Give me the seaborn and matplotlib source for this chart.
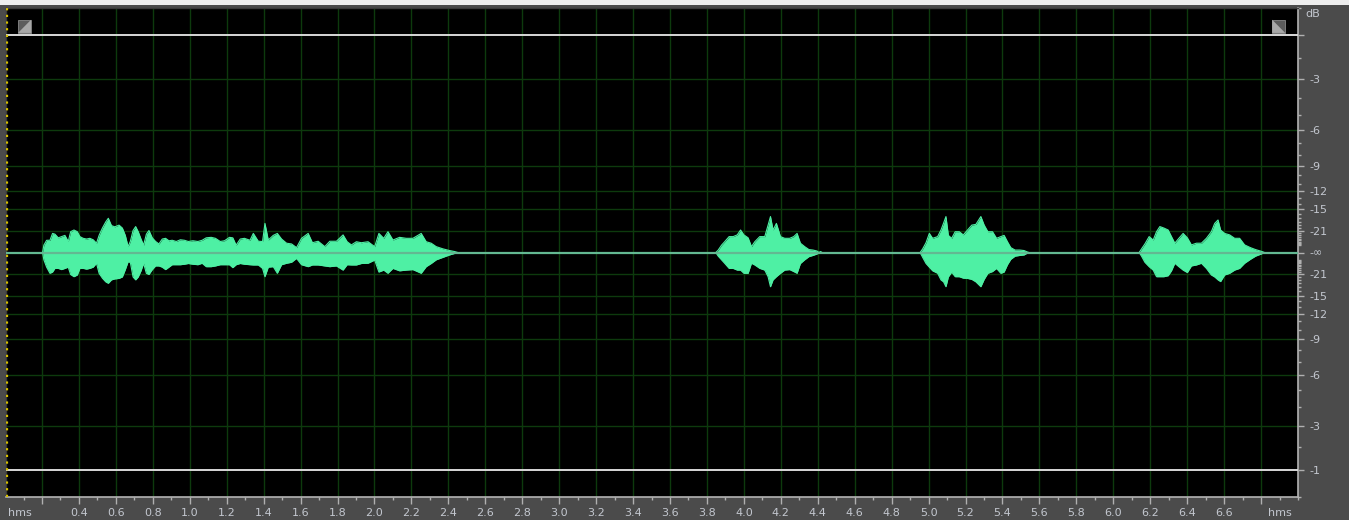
import numpy as np
import pandas as pd
import matplotlib
matplotlib.use("Agg")
import matplotlib.pyplot as plt
import seaborn as sns
from matplotlib.patches import Rectangle, Polygon
from matplotlib.ticker import FixedLocator, MultipleLocator

# waveform envelope read off the editor view:
# time (s), upper peak and lower peak (fraction of full scale)
seg1_time = [0.203, 0.21, 0.225, 0.243, 0.257, 0.27, 0.288, 0.306, 0.324, 0.342,
             0.355, 0.373, 0.391, 0.405, 0.423, 0.441, 0.459, 0.477, 0.495, 0.509,
             0.527, 0.545, 0.559, 0.576, 0.594, 0.617, 0.635, 0.651, 0.666, 0.678,
             0.693, 0.707, 0.721, 0.736, 0.75, 0.765, 0.779, 0.797, 0.815, 0.833,
             0.851, 0.869, 0.887, 0.905, 0.927, 0.949, 0.971, 0.992, 1.017, 1.044,
             1.067, 1.089, 1.116, 1.139, 1.165, 1.188, 1.215, 1.233, 1.251, 1.273,
             1.296, 1.326, 1.344, 1.371, 1.394, 1.407, 1.425, 1.452, 1.474, 1.497,
             1.524, 1.551, 1.578, 1.605, 1.641, 1.664, 1.695, 1.731, 1.758, 1.794,
             1.83, 1.852, 1.875, 1.902, 1.929, 1.965, 2.001, 2.024, 2.05, 2.073,
             2.1, 2.136, 2.172, 2.208, 2.253, 2.28, 2.307, 2.334, 2.37, 2.406,
             2.433, 2.451]
seg1_up = [0.0, 0.03, 0.05, 0.05, 0.078, 0.075, 0.06, 0.065, 0.07, 0.045,
           0.085, 0.092, 0.085, 0.065, 0.058, 0.055, 0.058, 0.052, 0.038, 0.07,
           0.1, 0.125, 0.14, 0.11, 0.105, 0.112, 0.1, 0.07, 0.024, 0.045,
           0.09, 0.106, 0.085, 0.055, 0.03, 0.075, 0.09, 0.06, 0.045, 0.035,
           0.055, 0.058, 0.048, 0.05, 0.045, 0.052, 0.05, 0.045, 0.048, 0.045,
           0.05, 0.06, 0.062, 0.058, 0.045, 0.048, 0.062, 0.06, 0.03, 0.055,
           0.058, 0.05, 0.078, 0.046, 0.045, 0.119, 0.051, 0.07, 0.078, 0.055,
           0.038, 0.035, 0.02, 0.058, 0.078, 0.04, 0.046, 0.024, 0.046, 0.046,
           0.072, 0.044, 0.031, 0.044, 0.04, 0.044, 0.024, 0.078, 0.058, 0.085,
           0.051, 0.062, 0.058, 0.058, 0.078, 0.044, 0.038, 0.024, 0.015, 0.008,
           0.004, 0.0]
seg1_lo = [0.0, 0.03, 0.06, 0.085, 0.08, 0.065, 0.065, 0.07, 0.065, 0.06,
           0.09, 0.099, 0.092, 0.065, 0.065, 0.068, 0.065, 0.06, 0.044, 0.085,
           0.105, 0.12, 0.126, 0.112, 0.108, 0.106, 0.1, 0.07, 0.038, 0.04,
           0.1, 0.112, 0.1, 0.075, 0.044, 0.085, 0.09, 0.07, 0.055, 0.055,
           0.06, 0.07, 0.06, 0.05, 0.05, 0.05, 0.048, 0.045, 0.048, 0.05,
           0.044, 0.058, 0.058, 0.055, 0.05, 0.05, 0.05, 0.062, 0.05, 0.045,
           0.048, 0.05, 0.051, 0.051, 0.065, 0.099, 0.06, 0.058, 0.085, 0.05,
           0.044, 0.04, 0.024, 0.05, 0.058, 0.051, 0.051, 0.055, 0.058, 0.055,
           0.072, 0.05, 0.051, 0.051, 0.045, 0.044, 0.031, 0.08, 0.072, 0.085,
           0.065, 0.075, 0.072, 0.07, 0.085, 0.058, 0.045, 0.03, 0.02, 0.01,
           0.004, 0.0]

seg2_time = [3.848, 3.861, 3.879, 3.897, 3.92, 3.942, 3.964, 3.982, 4.0, 4.023,
             4.041, 4.059, 4.086, 4.113, 4.131, 4.144, 4.158, 4.176, 4.198, 4.221,
             4.248, 4.27, 4.288, 4.306, 4.329, 4.352, 4.374, 4.396, 4.406, 4.415,
             4.424]
seg2_up = [0.0, 0.01, 0.03, 0.045, 0.065, 0.065, 0.072, 0.092, 0.072, 0.06,
           0.024, 0.044, 0.065, 0.065, 0.112, 0.147, 0.092, 0.119, 0.065, 0.058,
           0.058, 0.065, 0.078, 0.038, 0.024, 0.012, 0.01, 0.006, 0.0, 0.004,
           0.0]
seg2_lo = [0.0, 0.015, 0.03, 0.045, 0.065, 0.065, 0.072, 0.072, 0.085, 0.085,
           0.044, 0.051, 0.065, 0.072, 0.099, 0.14, 0.112, 0.099, 0.085, 0.072,
           0.07, 0.078, 0.085, 0.045, 0.03, 0.017, 0.012, 0.006, 0.0, 0.004,
           0.0]

seg3_time = [4.954, 4.968, 4.986, 5.004, 5.022, 5.049, 5.067, 5.081, 5.094, 5.107,
             5.125, 5.144, 5.166, 5.188, 5.211, 5.234, 5.256, 5.283, 5.301, 5.321,
             5.346, 5.368, 5.391, 5.409, 5.427, 5.445, 5.468, 5.494, 5.517, 5.535,
             5.544]
seg3_up = [0.0, 0.015, 0.04, 0.078, 0.058, 0.065, 0.092, 0.12, 0.147, 0.07,
           0.058, 0.085, 0.085, 0.072, 0.092, 0.112, 0.115, 0.147, 0.112, 0.085,
           0.085, 0.058, 0.065, 0.07, 0.044, 0.02, 0.01, 0.01, 0.008, 0.002,
           0.0]
seg3_lo = [0.0, 0.02, 0.045, 0.06, 0.075, 0.085, 0.112, 0.12, 0.14, 0.1,
           0.08, 0.099, 0.099, 0.105, 0.106, 0.11, 0.12, 0.14, 0.11, 0.085,
           0.078, 0.065, 0.085, 0.08, 0.05, 0.028, 0.015, 0.012, 0.01, 0.002,
           0.0]

seg4_time = [6.14, 6.153, 6.171, 6.194, 6.216, 6.234, 6.252, 6.274, 6.297, 6.315,
             6.333, 6.355, 6.378, 6.401, 6.423, 6.45, 6.477, 6.504, 6.531, 6.549,
             6.567, 6.581, 6.603, 6.63, 6.657, 6.684, 6.711, 6.742, 6.77, 6.801,
             6.819]
seg4_up = [0.0, 0.015, 0.035, 0.065, 0.051, 0.085, 0.106, 0.1, 0.092, 0.065,
           0.038, 0.058, 0.078, 0.06, 0.031, 0.038, 0.038, 0.058, 0.085, 0.119,
           0.133, 0.092, 0.078, 0.072, 0.058, 0.058, 0.031, 0.02, 0.012, 0.005,
           0.0]
seg4_lo = [0.0, 0.015, 0.04, 0.058, 0.072, 0.099, 0.099, 0.099, 0.095, 0.075,
           0.044, 0.058, 0.072, 0.082, 0.055, 0.051, 0.044, 0.065, 0.092, 0.1,
           0.112, 0.119, 0.092, 0.085, 0.072, 0.065, 0.044, 0.028, 0.015, 0.006,
           0.0]

# right hand dB ruler
db_levels = [3, 6, 9, 12, 15, 21]
clip_db = 1
time_ticks = [round(0.2 * i, 1) for i in range(1, 35)]
x_range = (0.005, 7.0)

bg = "#4b4b4b"
wave_col = "#4ef0a4"
grid_col = "#0d3a0d"
text_col = "#c3c7cf"

sns.set_theme(style="dark")
plt.rcParams["font.family"] = ["DejaVu Sans"]

fig = plt.figure(figsize=(13.49, 5.2), dpi=100, facecolor=bg)
ax = fig.add_axes([6 / 1349, 23 / 520, 1292 / 1349, 489 / 520])
ax.set_facecolor("black")

# light strip at the very top of the window
fig.patches.append(Rectangle((0, 1 - 5 / 520), 1, 5 / 520, transform=fig.transFigure,
                             facecolor="#eeeeee", edgecolor="none"))

segments = [(seg1_time, seg1_up, seg1_lo), (seg2_time, seg2_up, seg2_lo),
            (seg3_time, seg3_up, seg3_lo), (seg4_time, seg4_up, seg4_lo)]
for t, up, lo in segments:
    df = pd.DataFrame({"time": t, "upper": up, "lower": np.negative(lo)})
    ax.fill_between(df["time"], df["lower"], df["upper"], color=wave_col, lw=0, zorder=3)
    sns.lineplot(data=df, x="time", y="upper", ax=ax, color=wave_col, lw=0.8, zorder=3)
    sns.lineplot(data=df, x="time", y="lower", ax=ax, color=wave_col, lw=0.8, zorder=3)

# grid
amps = [10 ** (-d / 20) for d in db_levels]
for a in amps:
    for s in (1, -1):
        ax.axhline(s * a, color=grid_col, lw=1, zorder=1)
for t in time_ticks:
    ax.axvline(t, color=grid_col, lw=1, zorder=1)

# centre line and clip lines
ax.axhline(0, color="#63b892", lw=1.6, zorder=4)
clip = 10 ** (-clip_db / 20)
ax.axhline(clip, color="#d8d8d8", lw=1.4, zorder=4)
ax.axhline(-clip, color="#d8d8d8", lw=1.4, zorder=4)

# play cursor
ax.axvline(0.012, color="#d6c000", lw=1.6, ls=(0, (1, 2)), zorder=5)

# fade handles
for x0, tri in ((0.0093, "l"), (0.9800, "r")):
    ax.add_patch(Rectangle((x0, 0.949), 0.0101, 0.027, transform=ax.transAxes,
                           facecolor="#5c5c5c", edgecolor="#8a8a8a", lw=0.6, zorder=6))
    if tri == "l":
        pts = [(x0, 0.949), (x0 + 0.0101, 0.976), (x0 + 0.0101, 0.949)]
    else:
        pts = [(x0, 0.949), (x0, 0.976), (x0 + 0.0101, 0.949)]
    ax.add_patch(Polygon(pts, closed=True, transform=ax.transAxes,
                         facecolor="#a8a8a8", edgecolor="none", zorder=7))

ax.set_xlim(*x_range)
ax.set_ylim(-1, 1)
ax.set_xlabel("")
ax.set_ylabel("")

# time axis
ax.xaxis.set_major_locator(FixedLocator(time_ticks))
ax.set_xticklabels(["" if t in (0.2, 6.8) else f"{t:.1f}" for t in time_ticks])
ax.xaxis.set_minor_locator(MultipleLocator(0.1))
ax.tick_params(axis="x", which="major", direction="out", length=5, width=1,
               color="#b0b0b0", labelcolor=text_col, labelsize=8, pad=3, bottom=True)
ax.tick_params(axis="x", which="minor", direction="out", length=2.5, width=1,
               color="#b0b0b0", bottom=True)

# dB axis on the right
ax.yaxis.tick_right()
ypos = amps + [0] + [-a for a in amps[::-1]] + [clip, -clip]
ylab = [f"-{d}" for d in db_levels] + ["-\u221e"] + [f"-{d}" for d in db_levels[::-1]] + ["", "-1"]
ax.yaxis.set_major_locator(FixedLocator(ypos))
ax.set_yticklabels(ylab)
minor = []
for d in range(0, 31):
    a = 10 ** (-d / 20)
    minor += [a, -a]
ax.yaxis.set_minor_locator(FixedLocator(minor))
ax.tick_params(axis="y", which="major", direction="out", length=4, width=1,
               color="#b0b0b0", labelcolor=text_col, labelsize=8, pad=4,
               right=True, left=False)
ax.tick_params(axis="y", which="minor", direction="out", length=2, width=1,
               color="#b0b0b0", right=True, left=False)
ax.grid(False)

for side in ("bottom", "right"):
    ax.spines[side].set_color("#b4b4b4")
    ax.spines[side].set_linewidth(1.2)
for side in ("top", "left"):
    ax.spines[side].set_color("#3a3a3a")
    ax.spines[side].set_linewidth(1.0)

ax.text(0.011, -0.032, "hms", transform=ax.transAxes, ha="center", va="center",
        color=text_col, fontsize=8)
ax.text(0.986, -0.032, "hms", transform=ax.transAxes, ha="center", va="center",
        color=text_col, fontsize=8)
fig.text(1305 / 1349, 1 - 14 / 520, "dB", ha="left", va="center", color=text_col, fontsize=8)

fig.savefig("out.png", dpi=100, facecolor=bg)
